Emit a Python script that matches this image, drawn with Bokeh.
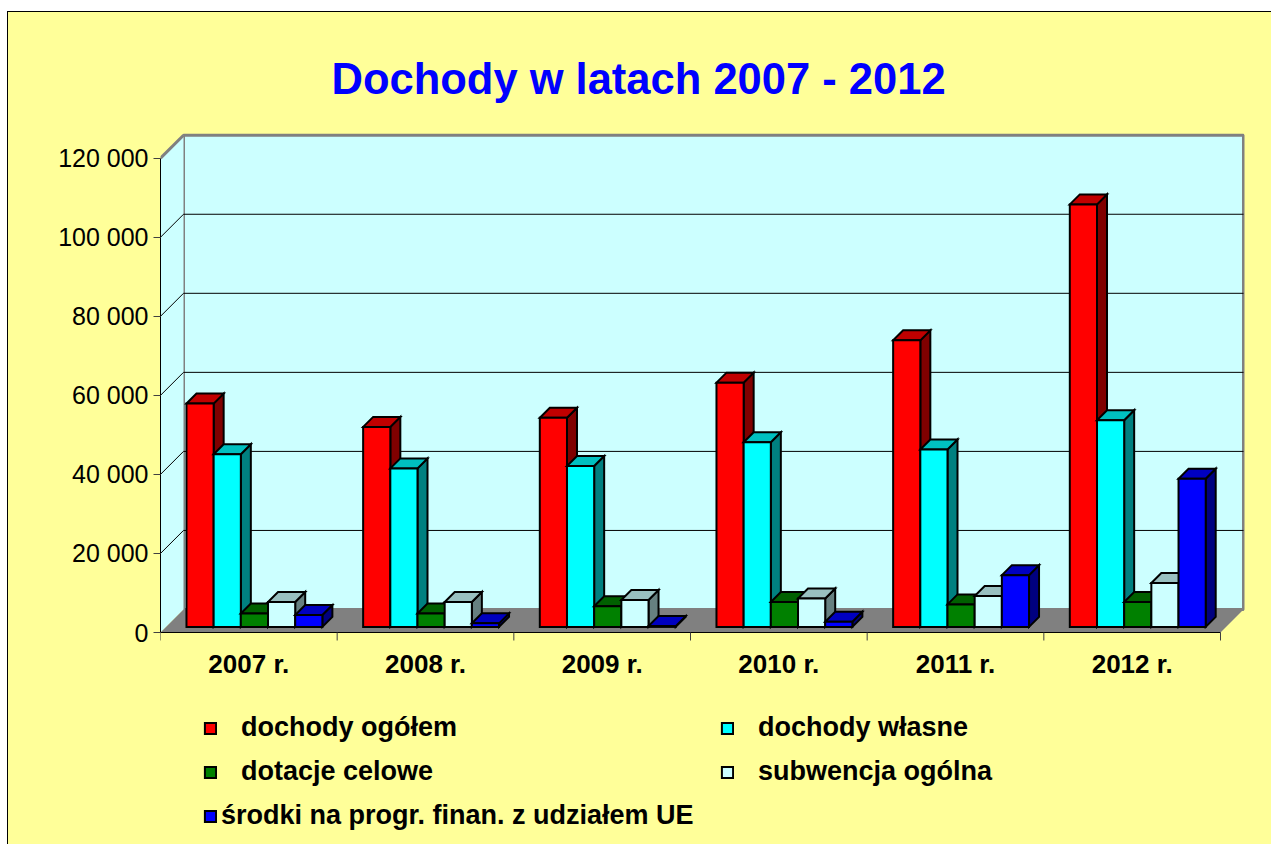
from bokeh.plotting import figure
from bokeh.models import FixedTicker, Legend, LegendItem, Range1d
from bokeh.core.properties import value
from bokeh.embed import file_html
from bokeh.resources import INLINE

# ---------------- data ----------------
years = ["2007 r.", "2008 r.", "2009 r.", "2010 r.", "2011 r.", "2012 r."]
series_names = ["dochody ogółem", "dochody własne", "dotacje celowe",
                "subwencja ogólna", "środki na progr. finan. z udziałem UE"]
dochody_ogolem = [56500, 50600, 52900, 61800, 72500, 106900]
dochody_wlasne = [43700, 40100, 40700, 46700, 44900, 52300]
dotacje_celowe = [3400, 3400, 5200, 6300, 5700, 6300]
subwencja_ogolna = [6300, 6300, 6800, 7200, 7800, 11100]
srodki_ue = [3000, 900, 200, 1300, 13100, 37500]
y_ticks = [0, 20000, 40000, 60000, 80000, 100000, 120000]
y_tick_labels = ["0", "20 000", "40 000", "60 000", "80 000", "100 000", "120 000"]

series = [dochody_ogolem, dochody_wlasne, dotacje_celowe, subwencja_ogolna, srodki_ue]
# front, top, side colours
colors = [
    ("#FF0000", "#C00000", "#800000"),
    ("#00FFFF", "#00C0C0", "#008080"),
    ("#008000", "#006000", "#004000"),
    ("#CCFFFF", "#99C0C0", "#668080"),
    ("#0000FF", "#0000C0", "#000080"),
]

# ---------------- geometry ----------------
N = len(years)
PX_X = 1060 / N               # px per category
PX_Y = 474.3 / 120000         # px per value unit
FRAME_W = 1084
TOP_PX, BELOW_PX = 500, 213   # frame part above / below the floor front edge
XEND = FRAME_W / PX_X
YEND = TOP_PX / PX_Y
YSTART = -BELOW_PX / PX_Y
YMAX = y_ticks[-1]
DX = 23 / PX_X                # depth of the 3D box
DY = 23 / PX_Y
F0, FB = 0.243, 0.435         # bar front depth, bar depth (fractions)
W = 1 / 6.5                   # bar width (gap width 150%)
G = 0.75 / 6.5

BG = "#FFFF99"
WALL = "#CCFFFF"

p = figure(width=1264, height=833, x_range=Range1d(0, XEND), y_range=Range1d(YSTART, YEND),
           output_backend="svg", toolbar_location=None, x_axis_location=None,
           min_border_left=152, min_border_right=28, min_border_top=120, min_border_bottom=0,
           background_fill_color=BG, border_fill_color=BG, outline_line_color=None)
p.styles = {"margin-left": "7px", "margin-top": "11px", "background-color": BG,
            "border-left": "1px solid black", "border-top": "1px solid black"}
p.xgrid.visible = False
p.ygrid.visible = False

# title
p.title.text = "Dochody w latach 2007 - 2012"
p.title.text_font = "Liberation Sans"
p.title.text_font_style = "bold"
p.title.text_font_size = "43.5px"
p.title.text_color = "#0000FF"
p.title.align = "left"
p.title.offset = 171
p.title.standoff = 59

# back wall
p.quad(left=DX, right=N + DX, bottom=DY, top=YMAX + DY,
       fill_color=WALL, line_color="#808080", line_width=3)
# left wall
p.patch(x=[0, 0, DX, DX], y=[0, YMAX, YMAX + DY, DY], fill_color=WALL, line_color=None)
p.line(x=[0, DX], y=[YMAX, YMAX + DY], line_color="#808080", line_width=3)
# gridlines on back wall and side wall
grid_vals = [v for v in y_ticks if 0 < v < YMAX]
p.segment(x0=[DX] * len(grid_vals), y0=[v + DY for v in grid_vals],
          x1=[N + DX] * len(grid_vals), y1=[v + DY for v in grid_vals],
          line_color="#000000", line_width=1)
p.segment(x0=[0] * len(grid_vals), y0=grid_vals,
          x1=[DX] * len(grid_vals), y1=[v + DY for v in grid_vals],
          line_color="#000000", line_width=1)
# floor
p.patch(x=[0, N, N + DX, DX], y=[0, 0, DY, DY], fill_color="#808080", line_color=None)

# bars
front_renderers = []
for k, vals in enumerate(series):
    fc, tc, sc = colors[k]
    left = [i + G + k * W + F0 * DX for i in range(N)]
    right = [l + W for l in left]
    bottom = [F0 * DY] * N
    top = [v + F0 * DY for v in vals]
    bx, by = FB * DX, FB * DY
    side_xs = [[r, r, r + bx, r + bx] for r in right]
    side_ys = [[b, t, t + by, b + by] for b, t in zip(bottom, top)]
    top_xs = [[l, r, r + bx, l + bx] for l, r in zip(left, right)]
    top_ys = [[t, t, t + by, t + by] for t in top]
    p.patches(xs=side_xs, ys=side_ys, fill_color=sc, line_color="black", line_width=2,
              line_join="miter")
    p.patches(xs=top_xs, ys=top_ys, fill_color=tc, line_color="black", line_width=2,
              line_join="miter")
    r = p.quad(left=left, right=right, bottom=bottom, top=top,
               fill_color=fc, line_color="black", line_width=2, line_join="miter")
    front_renderers.append(r)

# category axis (front edge of the floor)
p.segment(x0=[0], y0=[0], x1=[N], y1=[0], line_color="black", line_width=1)
p.segment(x0=list(range(N + 1)), y0=[0] * (N + 1), x1=list(range(N + 1)),
          y1=[-8 / PX_Y] * (N + 1), line_color="#404040", line_width=1)
p.text(x=[i + 0.5 for i in range(N)], y=[-31 / PX_Y] * N, text=years,
       text_font=value("Liberation Sans"), text_font_style="bold", text_font_size="26px",
       text_align="center", text_baseline="alphabetic", text_color="black")

# y axis
ya = p.yaxis[0]
ya.ticker = FixedTicker(ticks=y_ticks)
ya.major_label_overrides = {v: s for v, s in zip(y_ticks, y_tick_labels)}
ya.bounds = (0, YMAX)
ya.axis_line_color = "black"
ya.axis_line_width = 1
ya.major_tick_out = 7
ya.major_tick_in = 0
ya.major_tick_line_color = "#404040"
ya.minor_tick_line_color = None
ya.major_label_standoff = 5
ya.major_label_text_font = "Liberation Sans"
ya.major_label_text_font_size = "25px"
ya.major_label_text_color = "black"

# legend (one legend per entry for exact placement)
leg_pos = [(43, 102, 24), (560, 102, 24), (43, 58, 24), (560, 58, 24), (43, 14, 4)]
for k, (vx, vy, stand) in enumerate(leg_pos):
    leg = Legend(items=[LegendItem(label=series_names[k], renderers=[front_renderers[k]])],
                 location=(vx, vy), orientation="vertical",
                 border_line_color=None, background_fill_alpha=0,
                 padding=0, margin=0, spacing=0,
                 glyph_width=14, glyph_height=14, label_height=14,
                 label_standoff=stand,
                 label_text_font="Liberation Sans", label_text_font_style="bold",
                 label_text_font_size="27px", label_text_color="black")
    p.add_layout(leg)

open("out.html", "w").write(file_html(p, INLINE))
